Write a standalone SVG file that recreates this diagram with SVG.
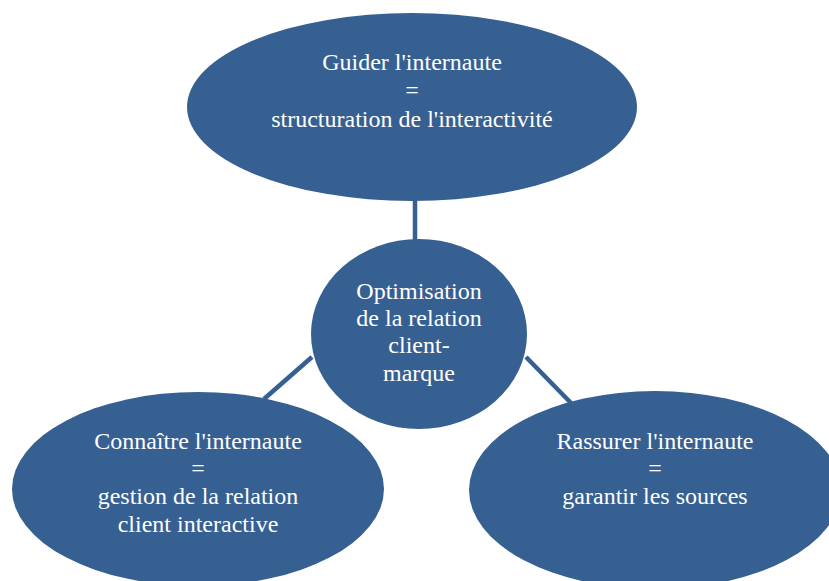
<svg xmlns="http://www.w3.org/2000/svg" width="829" height="581" viewBox="0 0 829 581">
<style>
.node{fill:#365F92;}
.conn{stroke:#365F92;stroke-width:4.5;fill:none;}
text{font-family:"Liberation Serif","Times New Roman",serif;font-size:24px;fill:#FFFFFF;text-anchor:middle;}
</style>
<rect width="829" height="581" fill="#FFFFFF"/>
<g id="connectors">
<line class="conn" x1="415" y1="198" x2="415" y2="243"/>
<line class="conn" x1="312" y1="357" x2="264" y2="399"/>
<line class="conn" x1="526" y1="357" x2="571" y2="403"/>
</g>
<g id="node-top">
<ellipse class="node" cx="412" cy="107" rx="225" ry="94"/>
<text x="412" y="70">Guider l'internaute</text>
<text x="412" y="98">=</text>
<text x="412" y="127">structuration de l'interactivité</text>
</g>
<g id="node-center">
<ellipse class="node" cx="419" cy="334" rx="108" ry="95"/>
<text x="419" y="299">Optimisation</text>
<text x="419" y="326">de la relation</text>
<text x="419" y="353">client-</text>
<text x="419" y="381">marque</text>
</g>
<g id="node-left">
<ellipse class="node" cx="198" cy="489" rx="186" ry="97"/>
<text x="198" y="449">Connaître l'internaute</text>
<text x="198" y="476">=</text>
<text x="198" y="504">gestion de la relation</text>
<text x="198" y="532">client interactive</text>
</g>
<g id="node-right">
<ellipse class="node" cx="655" cy="490" rx="186" ry="99"/>
<text x="655" y="449">Rassurer l'internaute</text>
<text x="655" y="476">=</text>
<text x="655" y="504">garantir les sources</text>
</g>
</svg>
